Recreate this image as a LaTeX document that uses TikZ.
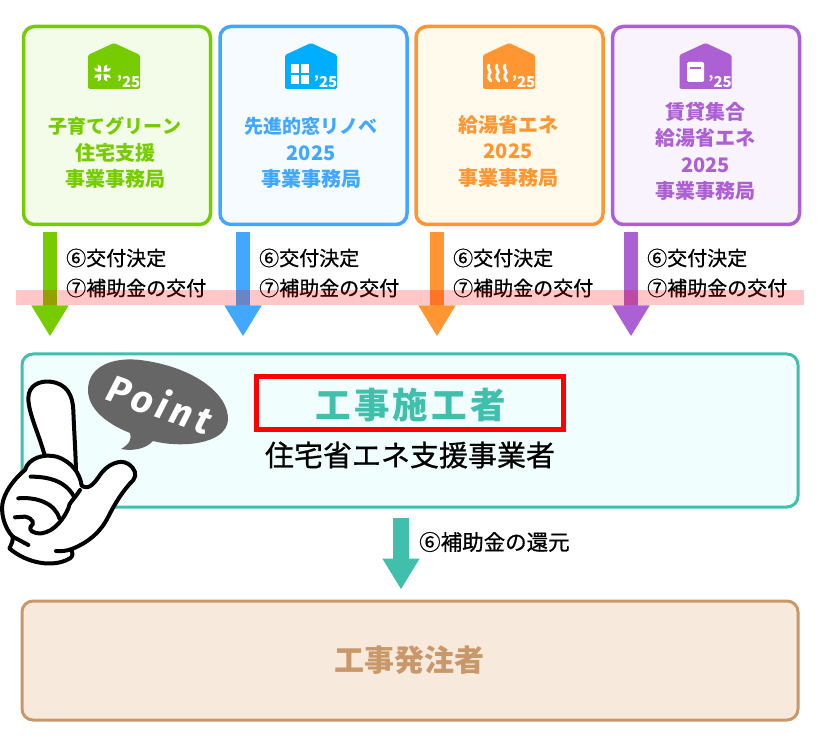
\documentclass[tikz,border=0pt]{standalone}
\usepackage{fontspec}
\setmainfont{Noto Sans CJK JP}
\newfontfamily\pointfont[LetterSpace=12]{Fira Sans}
\newfontfamily\stepfont[FakeBold=0.8]{Noto Sans CJK JP}
\newfontfamily\widefont[LetterSpace=9]{Noto Sans CJK JP}
\usetikzlibrary{arrows.meta, positioning}

\definecolor{leaf}{HTML}{76CC00}
\definecolor{sky}{HTML}{42A8FF}
\definecolor{skyicon}{HTML}{00AEFF}
\definecolor{amber}{HTML}{FF9632}
\definecolor{violet}{HTML}{AD5FD4}
\definecolor{teal}{HTML}{40BFAD}
\definecolor{clay}{HTML}{C9986A}
\definecolor{leafpale}{HTML}{F3FCE8}
\definecolor{skypale}{HTML}{F5FBFF}
\definecolor{amberpale}{HTML}{FFFAEB}
\definecolor{violetpale}{HTML}{F8F3FD}
\definecolor{tealpale}{HTML}{F0FFFD}
\definecolor{claypale}{HTML}{F7EADC}

\newcommand{\houseicon}[3]{
    \fill [#2, rounded corners=1.5pt] (#1-26,55) -- (#1,43) -- (#1+26,55)
        -- (#1+26,89) -- (#1-26,89) -- cycle;
    \node (#3) [yeartag] at (#1+26.5,82) {'25};
}

\tikzset{
    officebox/.style = {draw, line width=3.5pt, rounded corners=11pt,
        minimum width=187pt, minimum height=198pt},
    boxlabel/.style = {align=center,
        font=\fontsize{20}{26.5}\selectfont\bfseries},
    steplabel/.style = {anchor=west, inner sep=0pt,
        font=\stepfont\fontsize{20}{30}\selectfont, align=left},
    yeartag/.style = {text=white, inner sep=0pt, anchor=east,
        font=\fontsize{15}{15}\selectfont\bfseries},
    flow/.style = {line width=14pt, -{Triangle[width=35pt,length=31pt]}},
    widebox/.style = {draw, line width=3pt, rounded corners=11pt,
        minimum width=776pt}
}

\begin{document}
\begin{tikzpicture} [x=1pt, y=-1pt]
    \useasboundingbox (0,0) rectangle (820,751);

    % offices
    \node (greenbox) [officebox, draw=leaf, fill=leafpale] at (117,125.5) {};
    \node (bluebox) [officebox, draw=sky, fill=skypale] at (313.5,125.5) {};
    \node (orangebox) [officebox, draw=amber, fill=amberpale] at (509.5,125.5) {};
    \node (purplebox) [officebox, draw=violet, fill=violetpale] at (706,125.5) {};

    \houseicon{114}{leaf}{greenyear}
    \houseicon{311}{skyicon}{blueyear}
    \houseicon{509}{amber}{orangeyear}
    \houseicon{705.5}{violet}{purpleyear}

    % icon marks
    \foreach \a in {45,135,225,315}
        \fill [white, rotate around={\a:(102.5,73)}] (102.5,71.5) -- (106,67) -- (105,63.5)
            -- (102.5,67) -- (100,63.5) -- (99,67) -- cycle;
    \foreach \x/\y in {291/64, 301/64, 291/75, 301/75}
        \fill [white] (\x,\y) rectangle +(8,9);
    \foreach \x in {489,497,505}
        \draw [white, line width=2.8pt, line cap=round]
            (\x,65) .. controls (\x-3,69) and (\x+4,71) .. (\x,75)
            .. controls (\x-1,77) and (\x,79) .. (\x+2,81);
    \fill [white, rounded corners=1.5pt] (687,62) rectangle (704,82);
    \draw [violet, line width=1.5pt] (690,68) -- (701,68);

    \node (greenname) [boxlabel, text=leaf] at (115,153) {{\fontsize{19}{26.5}\selectfont 子育てグリーン}\\住宅支援\\事業事務局};
    \node (bluename) [boxlabel, text=sky] at (311,153) {{\fontsize{19}{26.5}\selectfont 先進的窓リノベ}\\2025\\事業事務局};
    \node (orangename) [boxlabel, text=amber] at (508,151) {給湯省エネ\\2025\\事業事務局};
    \node (purplename) [boxlabel, text=violet] at (705.5,151.5) {賃貸集合\\給湯省エネ\\2025\\事業事務局};

    % contractor and client
    \node (sitebox) [widebox, draw=teal, fill=tealpale, minimum height=153pt] at (410,430.5) {};
    \node (clientbox) [widebox, draw=clay, fill=claypale, minimum height=119pt] at (410,660.5) {};

    \node (sitename) [text=teal, font=\widefont\fontsize{35.5}{36}\selectfont\bfseries] at (410.5,405) {工事施工者};
    \node (redframe) [draw=red, line width=5pt, minimum width=307pt, minimum height=53pt] at (410,403) {};
    \node (sitesub) [font=\stepfont\fontsize{29}{29}\selectfont] at (410,455) {住宅省エネ支援事業者};
    \node (clientname) [text=clay, font=\fontsize{30}{30}\selectfont\bfseries] at (409.5,660) {工事発注者};

    % arrows
    \draw [flow, draw=leaf] ([xshift=-67pt,yshift=-6pt]greenbox.south) -- ([xshift=-360pt,yshift=16pt]sitebox.north);
    \draw [flow, draw=sky] ([xshift=-70.5pt,yshift=-6pt]bluebox.south) -- ([xshift=-167pt,yshift=16pt]sitebox.north);
    \draw [flow, draw=amber] ([xshift=-72.5pt,yshift=-6pt]orangebox.south) -- ([xshift=27pt,yshift=16pt]sitebox.north);
    \draw [flow, draw=violet] ([xshift=-75pt,yshift=-6pt]purplebox.south) -- ([xshift=221pt,yshift=16pt]sitebox.north);
    \draw [flow, line width=16pt, draw=teal] ([xshift=-9pt,yshift=-9pt]sitebox.south) -- ([xshift=-9pt,yshift=10pt]clientbox.north);

    \node (greenstep) [steplabel] at (66,273) {⑥交付決定\\⑦補助金の交付};
    \node (bluestep) [steplabel] at (259,273) {⑥交付決定\\⑦補助金の交付};
    \node (orangestep) [steplabel] at (453,273) {⑥交付決定\\⑦補助金の交付};
    \node (purplestep) [steplabel] at (647,273) {⑥交付決定\\⑦補助金の交付};
    \node (returnstep) [steplabel, font=\stepfont\fontsize{21.5}{30}\selectfont] at (419,542) {⑥補助金の還元};

    % pink band
    \fill [red, opacity=0.22] (16,290) rectangle (804,305);

    % speech bubble
    \fill [black!60] (88,390) .. controls (88,365) and (115,357) .. (140,360)
        .. controls (190,366) and (229,392) .. (228,420)
        .. controls (226,445) and (180,448) .. (153,441)
        .. controls (145,450) and (130,451) .. (121,449)
        .. controls (130,444) and (132,438) .. (130,433)
        .. controls (105,423) and (88,408) .. (88,390) -- cycle;
    \node (pointtext) [text=white, rotate=-19, font=\pointfont\fontsize{38}{38}\selectfont\bfseries\itshape] at (160,403) {Point};

    % hand
    \begin{scope} [shift={(0,340)}, x=0.3333pt, y=-0.3333pt, draw=black, line width=4pt, line join=round, line cap=round]
        \draw [fill=white] (135,350) .. controls (120,290) and (85,220) .. (85,175)
            .. controls (85,135) and (120,122) .. (150,125)
            .. controls (200,130) and (218,165) .. (220,210)
            .. controls (222,270) and (226,320) .. (228,390) -- cycle;
        \draw [fill=white] (245,437) .. controls (265,450) and (280,435) .. (300,405)
            .. controls (320,375) and (360,355) .. (385,372)
            .. controls (405,385) and (412,405) .. (400,420)
            .. controls (370,450) and (345,490) .. (325,530)
            .. controls (300,580) and (260,610) .. (213,628)
            .. controls (220,640) and (218,650) .. (210,655)
            .. controls (160,685) and (80,670) .. (28,625)
            .. controls (35,612) and (40,600) .. (38,590)
            .. controls (10,560) and (0,510) .. (10,480)
            .. controls (20,445) and (50,410) .. (75,390)
            .. controls (85,355) and (130,340) .. (170,350)
            .. controls (215,365) and (240,400) .. (245,437) -- cycle;
        \draw (240,450) .. controls (225,475) and (205,490) .. (205,505)
            .. controls (195,530) and (165,575) .. (125,580)
            .. controls (100,582) and (85,570) .. (92,560)
            .. controls (105,552) and (100,535) .. (75,530)
            -- (45,532);
        \draw (92,410) .. controls (140,410) and (195,420) .. (222,470);
        \draw (55,475) .. controls (110,470) and (165,490) .. (178,535);
        \draw (38,590) -- (85,615);
        \draw (168,633) .. controls (185,635) and (200,632) .. (213,628);
    \end{scope}
\end{tikzpicture}
\end{document}
